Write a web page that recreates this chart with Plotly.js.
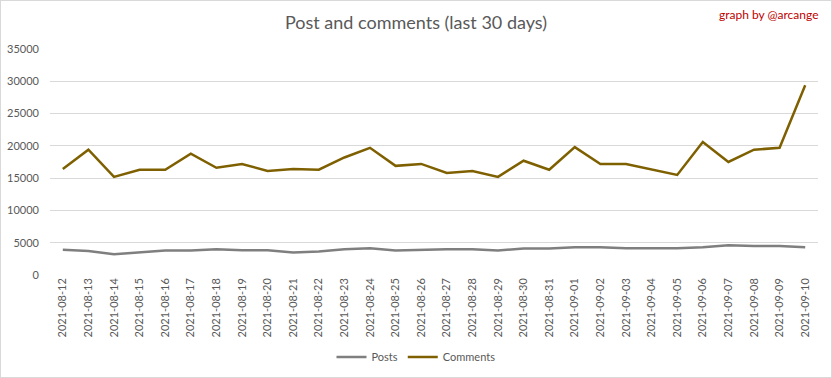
<!DOCTYPE html>
<html>
<head>
<meta charset="utf-8">
<script src="https://cdn.plot.ly/plotly-3.0.1.min.js"></script>
<style>
  html, body { margin: 0; padding: 0; background: #fff; }
  #chart { width: 832px; height: 378px; box-sizing: border-box; border: 1px solid #d9d9d9; }
</style>
</head>
<body>
<div id="chart"></div>
<script>
const dates = ["2021-08-12","2021-08-13","2021-08-14","2021-08-15","2021-08-16","2021-08-17","2021-08-18","2021-08-19","2021-08-20","2021-08-21","2021-08-22","2021-08-23","2021-08-24","2021-08-25","2021-08-26","2021-08-27","2021-08-28","2021-08-29","2021-08-30","2021-08-31","2021-09-01","2021-09-02","2021-09-03","2021-09-04","2021-09-05","2021-09-06","2021-09-07","2021-09-08","2021-09-09","2021-09-10"];
const posts = [3900,3700,3200,3500,3800,3800,4000,3850,3850,3500,3650,4000,4150,3800,3950,4000,4000,3800,4100,4100,4300,4300,4150,4150,4150,4300,4600,4500,4500,4300];
const comments = [16400,19400,15200,16300,16300,18800,16600,17200,16100,16400,16300,18200,19700,16900,17200,15800,16100,15200,17700,16300,19800,17200,17200,16400,15500,20600,17500,19400,19700,29400];
const yTicks = [0,5000,10000,15000,20000,25000,30000,35000];

const font = "Lato, 'Open Sans', sans-serif";
const traces = [
  {x: dates, y: posts, name: "Posts", type: "scatter", mode: "lines",
   line: {color: "#7f7f7f", width: 2.5}},
  {x: dates, y: comments, name: "Comments", type: "scatter", mode: "lines",
   line: {color: "#7f6000", width: 2.5}}
];
const layout = {
  width: 830, height: 376,
  margin: {l: 49, r: 13, t: 48, b: 102},
  paper_bgcolor: "#fff", plot_bgcolor: "#fff",
  font: {family: font, color: "#595959", size: 11},
  title: {text: "Post and comments (last 30 days)", font: {family: font, size: 18, color: "#595959"},
          x: 0.5, xanchor: "center", y: 0.943, yanchor: "middle"},
  showlegend: true,
  legend: {orientation: "h", xref: "container", x: 0.5, xanchor: "center", yref: "container", y: 0.053, yanchor: "middle",
           font: {size: 11, color: "#595959"}, itemwidth: 30},
  xaxis: {type: "category", range: [-0.5, dates.length - 0.5], tickangle: -90,
          showgrid: false, zeroline: false, showline: false, ticks: "", automargin: false,
          tickfont: {size: 11, color: "#595959"}},
  yaxis: {range: [0, 35000], tickvals: yTicks, ticktext: yTicks.map(String),
          showgrid: true, gridcolor: "#d9d9d9", gridwidth: 1, zeroline: false, automargin: false,
          showline: false, ticks: "", ticklabelstandoff: 10,
          tickfont: {size: 11, color: "#595959"}},
  annotations: [{text: "graph by @arcange", xref: "paper", yref: "paper",
                 x: 1.004, xanchor: "right", y: 1.152, yanchor: "middle", showarrow: false,
                 font: {family: font, size: 12, color: "#c00000"}}]
};
Plotly.newPlot("chart", traces, layout, {displayModeBar: false, staticPlot: true});
</script>
</body>
</html>
